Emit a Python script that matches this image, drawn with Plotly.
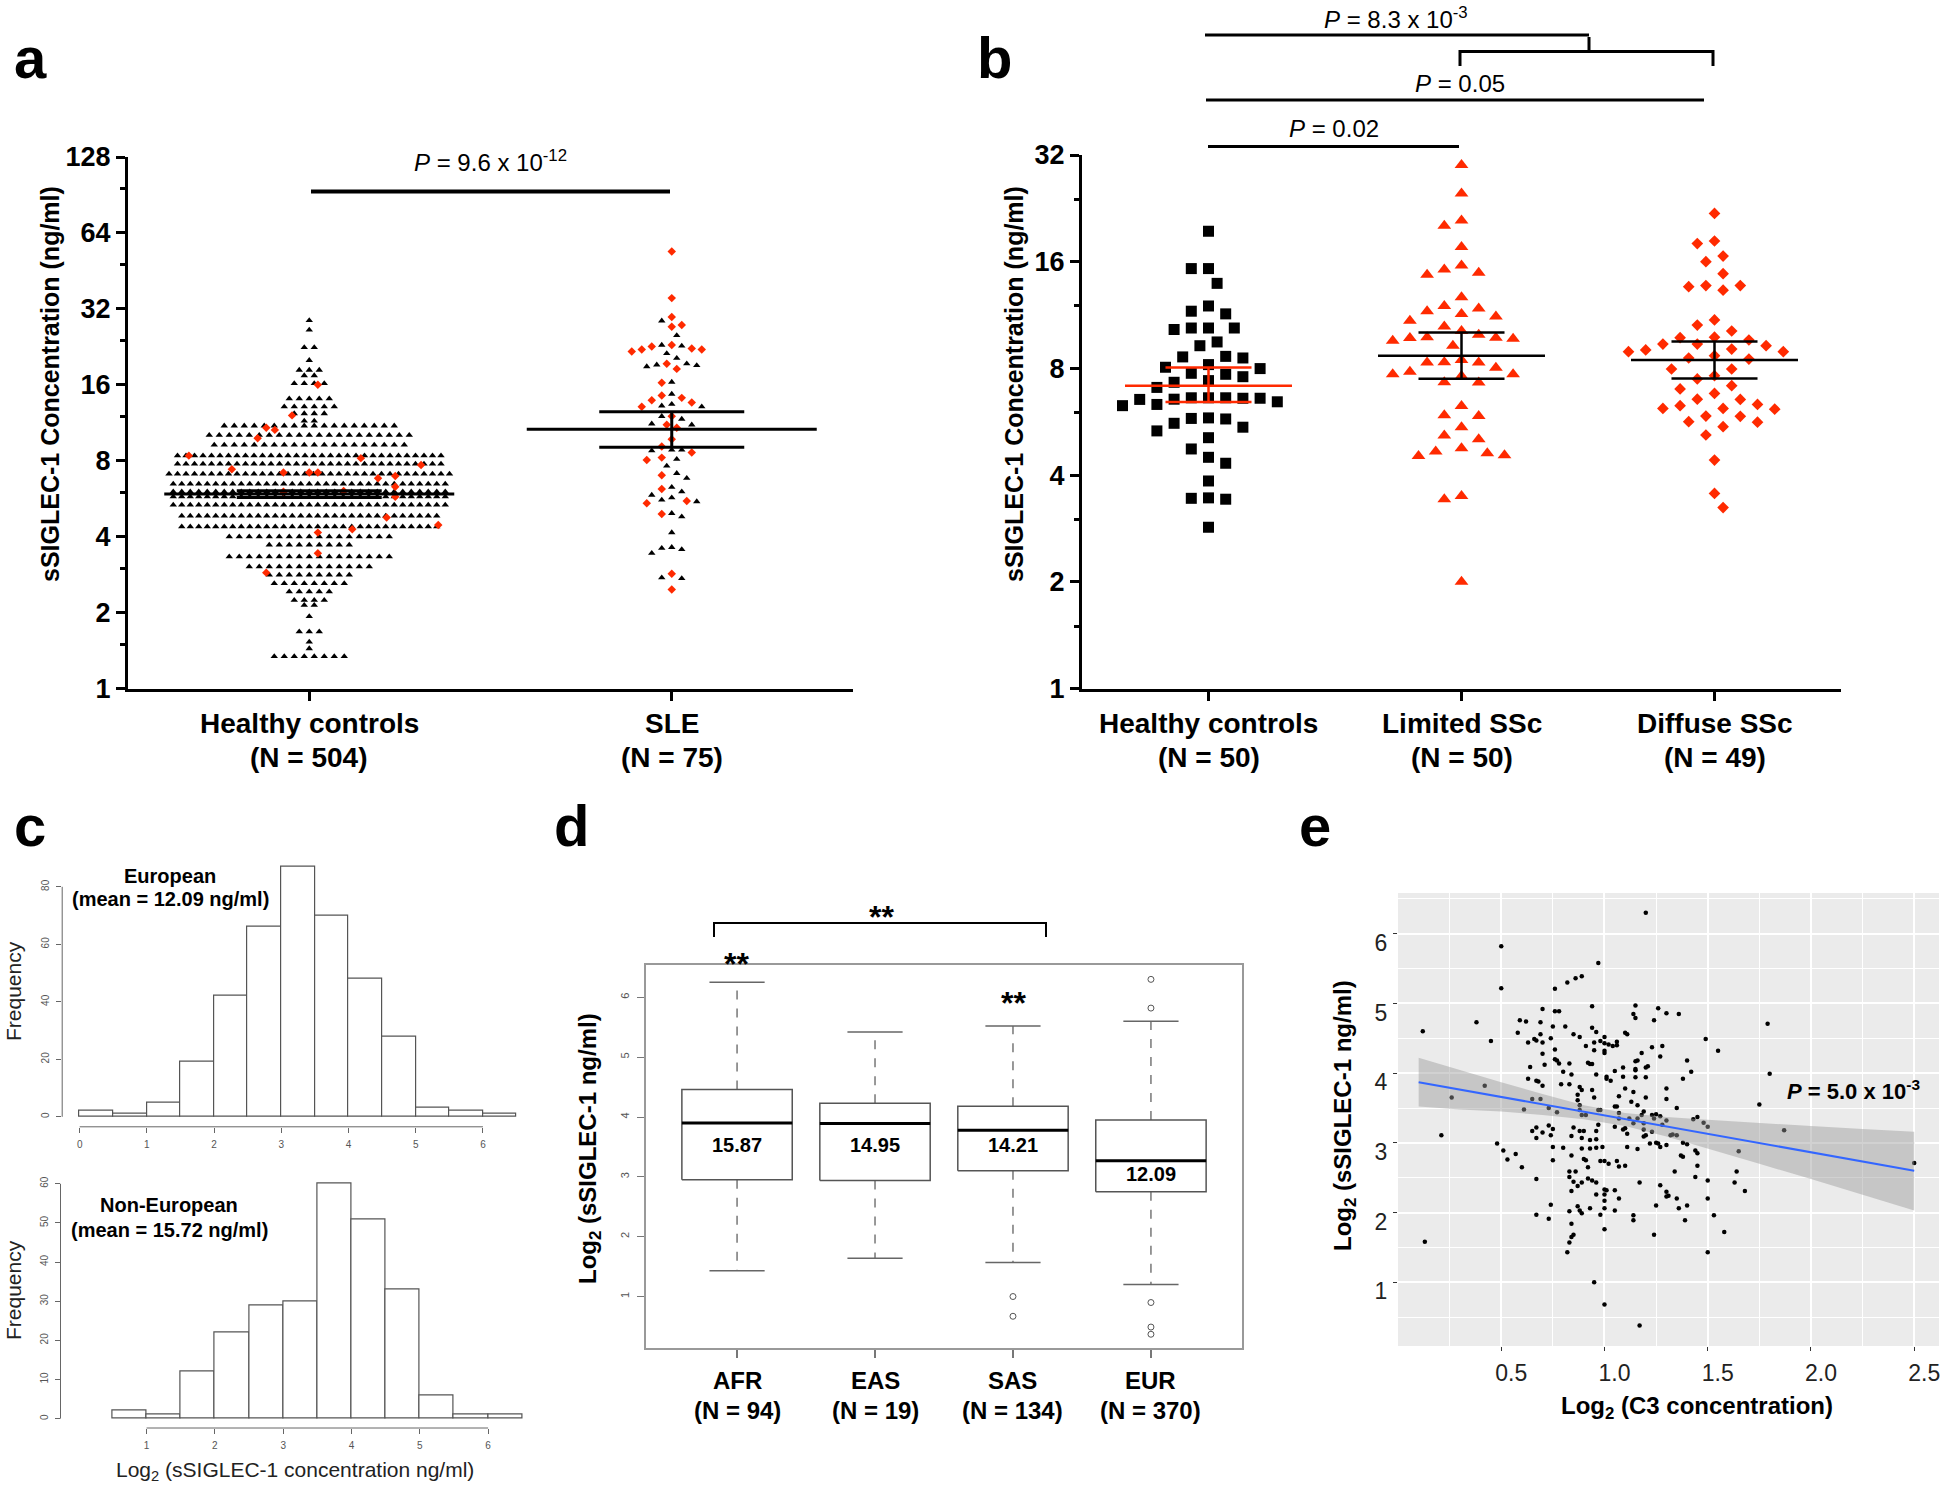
import math
import plotly.graph_objects as go

W, H = 1946, 1486
FONT = "Liberation Sans, Arial, Helvetica, sans-serif"
RED = "#ff2a00"

# ======================= DATA =======================
# ---- panel a : sSIGLEC-1 (ng/ml), healthy controls vs SLE ----
a_groups = ["Healthy controls", "SLE"]
a_n = [504, 75]
# healthy-control swarm rows (value, number of black triangles in the row)
hc_row_values = [28.8, 26.4, 22.5, 20.0, 18.3, 17.4, 16.2, 14.1, 13.1, 12.3,
                 11.5, 11.0, 10.1, 9.24, 8.38, 7.77, 7.09, 6.47, 6.03, 5.76,
                 5.34, 4.83, 4.38, 4.0, 3.71, 3.33, 3.04, 2.82, 2.61, 2.42,
                 2.24, 2.14, 1.93, 1.68, 1.53, 1.44, 1.34]
hc_row_counts = [1, 1, 2, 1, 3, 2, 4, 5, 6, 4,
                 2, 18, 21, 20, 32, 32, 34, 33, 33, 33,
                 33, 31, 31, 17, 9, 17, 13, 9, 8, 5,
                 4, 2, 1, 3, 1, 1, 8]
hc_red_values = [16.0, 12.1, 10.8, 10.6, 9.83, 8.38, 8.19, 7.40, 7.70, 7.18, 7.18, 7.18,
                 6.82, 6.96, 6.31, 6.03, 6.07, 5.76, 4.76, 4.45, 4.28, 4.15, 3.44, 2.88]
sle_red_values = [54.0, 35.3, 29.7, 27.2, 27.6, 22.3, 23.0, 22.1, 22.7, 21.7,
                  22.1, 19.4, 18.5, 16.3, 14.5, 13.9, 13.1, 13.6, 14.2, 12.0,
                  11.1, 10.8, 9.73, 9.10, 8.62, 8.06, 8.23, 7.01, 6.18, 5.43,
                  5.54, 4.92, 2.85, 2.47]
sle_black_values = [28.7, 25.1, 22.8, 23.0, 21.3, 20.4, 19.1, 18.9, 19.2, 19.4,
                    16.4, 14.7, 13.4, 13.2, 13.1, 12.0, 11.7, 11.2, 11.1, 8.83,
                    8.77, 8.83, 8.11, 7.63, 6.82, 7.13, 6.28, 6.03, 5.85, 5.59,
                    5.51, 5.71, 4.95, 4.80, 4.15, 3.60, 3.44, 3.56, 3.63, 2.75, 2.73]
a_mean = [5.9, 10.67]
a_sem_lo = [5.72, 9.05]
a_sem_hi = [6.08, 12.5]
a_ticks = [1, 2, 4, 8, 16, 32, 64, 128]
a_minor = [1.5, 3, 6, 12, 24, 48, 96]

# ---- panel b : healthy controls vs limited / diffuse SSc ----
b_groups = ["Healthy controls", "Limited SSc", "Diffuse SSc"]
b_n = [50, 50, 49]
b_hc = [19.5, 15.3, 15.3, 13.9, 12.0, 11.6, 11.4, 10.4, 10.3, 10.4,
        10.4, 9.50, 9.27, 8.62, 8.56, 8.65, 7.99, 8.20, 8.06, 7.70,
        7.58, 7.75, 7.39, 7.31, 7.07, 6.61, 6.59, 6.59, 6.44, 6.54,
        6.55, 6.61, 6.61, 6.28, 6.33, 5.78, 5.76, 5.80, 5.46, 5.60,
        5.33, 5.10, 4.74, 4.49, 4.32, 3.85, 3.44, 3.42, 3.45, 2.85]
b_lim = [30.0, 24.9, 20.2, 20.9, 17.6, 15.2, 14.7, 14.9, 15.6, 12.7,
         12.0, 11.6, 11.2, 11.8, 11.4, 10.9, 10.5, 10.2, 9.77, 9.74,
         9.58, 9.27, 9.70, 9.79, 9.96, 8.32, 8.31, 8.31, 8.45, 7.83,
         7.70, 7.61, 7.70, 8.04, 7.31, 7.30, 6.27, 5.87, 5.90, 5.46,
         5.17, 5.05, 4.76, 4.61, 4.53, 4.55, 4.66, 3.49, 3.42, 2.0]
b_dif = [21.9, 18.3, 18.0, 16.6, 16.0, 14.8, 13.7, 13.6, 13.3, 13.7,
         10.96, 10.6, 10.2, 9.77, 9.80, 9.62, 9.37, 9.07, 8.92, 8.69,
         8.50, 8.56, 8.92, 9.02, 9.27, 9.37, 7.97, 7.97, 7.63, 7.47,
         7.15, 6.80, 7.0, 6.54, 6.55, 6.28, 6.17, 6.14, 6.17, 6.33,
         5.87, 5.86, 5.64, 5.66, 5.48, 5.19, 4.41, 3.55, 3.24]
b_mean = [7.15, 8.69, 8.45]
b_sem_lo = [6.43, 7.48, 7.49]
b_sem_hi = [8.05, 10.1, 9.52]
b_ticks = [1, 2, 4, 8, 16, 32]
b_minor = [1.5, 3, 6, 12, 24]

# ---- panel c : histograms of log2 sSIGLEC-1 ----
eur_edges = [0.0, 0.5, 1.0, 1.5, 2.0, 2.5, 3.0, 3.5, 4.0, 4.5, 5.0, 5.5, 6.0, 6.5]
eur_counts = [2, 1, 5, 19, 42, 66, 87, 70, 48, 28, 3, 2, 1]
noneur_edges = [0.5, 1.0, 1.5, 2.0, 2.5, 3.0, 3.5, 4.0, 4.5, 5.0, 5.5, 6.0, 6.5]
noneur_counts = [2, 1, 12, 22, 29, 30, 60, 51, 33, 6, 1, 1]

# ---- panel d : boxplots by population ----
d_groups = ["AFR", "EAS", "SAS", "EUR"]
d_n = [94, 19, 134, 370]
d_upper = [6.25, 5.42, 5.52, 5.60]
d_q3 = [4.46, 4.23, 4.18, 3.95]
d_median = [3.90, 3.89, 3.78, 3.27]
d_q1 = [2.95, 2.94, 3.10, 2.75]
d_lower = [1.43, 1.64, 1.57, 1.20]
d_outliers = [[], [], [1.0, 0.67], [6.30, 5.82, 0.90, 0.49, 0.37]]
d_labels = ["15.87", "14.95", "14.21", "12.09"]

# ---- panel e : log2 sSIGLEC-1 vs log2 C3 ----
e_x = [1.20, 0.50, 0.97, 0.50, 0.76, 0.82, 0.86, 0.89, 0.12, 0.38, 0.45, 0.13, 0.21, 0.26, 0.42,
       0.70, 0.76, 0.78, 0.94, 1.15, 1.14, 1.15,
       0.59, 0.62, 0.69, 0.75, 0.81, 0.94,
       0.58, 0.66, 0.67, 0.69, 0.74, 0.85, 0.88, 0.96, 1.00, 1.10, 1.11,
       0.63, 0.70, 0.91, 0.95, 0.98, 1.00, 1.02, 1.06, 1.06, 1.04,
       0.70, 0.76, 0.95, 1.00, 1.00, 1.18,
       0.76, 0.77, 0.71, 0.64, 0.78, 0.83, 0.92, 0.93, 0.94, 1.05, 1.15, 1.16, 1.15, 1.15, 1.09,
       0.80, 0.84, 0.96, 1.01, 1.01, 1.03, 1.09, 1.15, 1.20, 0.63,
       0.67, 0.68, 0.70, 0.79, 0.83, 0.88, 0.89, 0.94, 1.10, 1.14, 1.07,
       0.65, 0.69, 0.87, 0.87, 0.95, 1.05, 1.06, 1.16, 1.13, 1.20,
       0.61, 0.73, 0.77, 0.88, 0.88, 0.89, 0.91, 0.97, 0.98, 1.07, 1.07, 1.12, 1.14, 1.16, 1.18, 1.19,
       0.65, 0.67, 0.67, 0.70, 0.73, 0.74, 0.75, 0.85, 0.88, 0.90, 0.96, 0.97, 1.05, 1.09, 1.10, 1.11, 1.19, 1.20,
       0.84, 0.89, 0.93, 0.96, 0.99, 0.96, 0.93, 0.89, 0.80, 0.75, 0.48, 0.51, 0.57, 0.53, 0.60, 0.67, 0.75, 0.84,
       0.90, 0.91, 0.98, 1.00, 1.02, 1.06, 1.07, 1.10, 1.11, 1.16,
       0.92, 0.83, 0.83, 0.86, 0.84, 0.85, 0.87, 0.89, 0.92, 0.94, 0.96, 0.96, 1.00, 1.01, 1.05, 1.07, 1.00, 1.00,
       1.17, 0.74, 0.87, 0.88, 0.89, 0.93, 0.98, 1.00, 1.05, 0.67, 0.73, 0.83, 1.14, 1.14,
       0.84, 0.85, 0.84, 0.83, 0.82, 1.00, 0.95, 1.00, 1.17,
       1.26, 1.30, 1.36, 1.24, 1.79, 1.49, 1.55, 1.23, 1.28, 1.27, 1.40, 1.20, 1.21, 1.42, 1.80, 1.38, 1.30, 1.30, 1.75, 1.35,
       1.23, 1.25, 1.27, 1.24, 1.30, 1.28, 1.19, 1.43, 1.45, 1.48, 1.50, 1.87, 1.19, 1.23, 1.32, 1.33, 1.35, 1.22, 1.25, 1.26,
       1.27, 1.30, 1.38, 1.40, 1.65, 1.44, 1.45, 1.37, 1.38, 1.45, 1.34, 1.44, 1.50, 1.63, 1.64, 1.68, 1.27, 1.30, 1.30, 1.31,
       1.35, 1.50, 1.25, 1.40, 1.36, 1.53, 1.39, 1.58, 1.24, 1.50, 2.50]
e_y = [6.30, 5.82, 5.58, 5.22, 5.21, 5.30, 5.36, 5.39, 4.60, 4.73, 4.46, 1.58, 3.11, 3.65, 3.82,
       4.92, 4.89, 4.89, 4.96, 4.97, 4.85, 4.79,
       4.76, 4.74, 4.73, 4.67, 4.67, 4.65,
       4.58, 4.49, 4.47, 4.56, 4.50, 4.56, 4.52, 4.59, 4.52, 4.58, 4.56,
       4.44, 4.44, 4.39, 4.44, 4.46, 4.43, 4.41, 4.45, 4.40, 4.39,
       4.28, 4.34, 4.33, 4.32, 4.29, 4.29,
       4.20, 4.18, 4.12, 4.09, 4.14, 4.14, 4.15, 4.13, 4.13, 4.03, 4.17, 4.18, 4.06, 4.04, 4.08,
       4.02, 3.98, 3.98, 3.95, 3.92, 3.89, 3.95, 3.94, 3.94, 3.92,
       3.89, 3.88, 3.82, 3.84, 3.84, 3.80, 3.76, 3.76, 3.78, 3.73, 3.67,
       3.63, 3.63, 3.69, 3.61, 3.65, 3.52, 3.52, 3.54, 3.59, 3.65,
       3.48, 3.50, 3.44, 3.54, 3.47, 3.40, 3.40, 3.47, 3.47, 3.43, 3.35, 3.35, 3.28, 3.35, 3.40, 3.45,
       3.17, 3.22, 3.07, 3.15, 3.25, 3.11, 3.20, 3.22, 3.17, 3.17, 3.17, 3.26, 3.23, 3.19, 3.21, 3.13, 3.09, 3.11,
       3.10, 3.07, 3.04, 3.05, 2.94, 2.93, 2.92, 2.92, 2.93, 2.94, 2.99, 2.89, 2.84, 2.76, 2.65, 2.48, 2.75, 2.82,
       2.77, 2.75, 2.74, 2.74, 2.70, 2.74, 2.66, 2.67, 2.94, 2.91,
       2.65, 2.59, 2.51, 2.59, 2.31, 2.44, 2.38, 2.43, 2.49, 2.46, 2.43, 2.26, 2.33, 2.32, 2.32, 2.20, 2.26, 2.17,
       2.43, 2.11, 2.09, 2.03, 1.99, 2.06, 1.97, 2.06, 2.03, 1.97, 1.91, 2.02, 1.96, 1.89,
       1.84, 1.68, 1.65, 1.57, 1.43, 1.76, 1.00, 0.68, 0.38,
       4.93, 4.86, 4.85, 4.76, 4.71, 4.49, 4.32, 4.37, 4.39, 4.24, 4.18, 4.08, 4.10, 4.02, 3.99, 3.92, 3.78, 3.63, 3.55, 3.50,
       3.40, 3.41, 3.38, 3.35, 3.32, 3.26, 3.28, 3.34, 3.37, 3.29, 3.23, 3.18, 3.19, 3.16, 3.11, 3.12, 3.11, 2.99, 3.00, 2.99,
       2.94, 2.97, 3.00, 2.98, 2.88, 2.89, 2.85, 2.82, 2.80, 2.67, 2.59, 2.51, 2.46, 2.43, 2.59, 2.31, 2.39, 2.30, 2.23, 2.24,
       2.20, 2.20, 2.10, 2.10, 2.06, 1.96, 1.89, 1.72, 1.68, 1.43, 2.71]
e_fit_x = [0.1, 2.5]
e_fit_y = [3.87, 2.60]
e_band_x = [0.1, 0.3, 0.5, 0.7, 0.9, 1.1, 1.3, 1.5, 1.75, 2.0, 2.25, 2.5]
e_band_lo = [3.52, 3.48, 3.45, 3.40, 3.34, 3.24, 3.09, 2.92, 2.70, 2.48, 2.26, 2.03]
e_band_hi = [4.22, 4.04, 3.87, 3.70, 3.54, 3.43, 3.37, 3.33, 3.28, 3.24, 3.20, 3.16]

# ======================= LAYOUT GEOMETRY (pixels) =======================
def PX(x):
    return x / W


def PY(y):
    return 1 - y / H


# plotting boxes: x0, x1, ytop, ybottom
A_BOX = (128, 853, 157, 688.5)
B_BOX = (1082, 1841, 155, 688.5)
C1_BOX = (62.2, 534, 856.7, 1126.8)
C2_BOX = (60.5, 540, 1174.4, 1428)
D_BOX = (646, 1242, 965, 1348)
E_BOX = (1398, 1939, 893, 1346)

A_XR = [0.5, 2.5]
B_XR = [0.5, 3.5]
C1_XR = [-0.26, 6.76]
C1_YR = [-3.48, 90.48]
C2_XR = [-0.26, 6.76]
C2_YR = [-2.4, 62.4]
D_XR = [0.34, 4.66]
D_YR = [0.14, 6.54]
E_XR = [0.0, 2.62]
E_YR = [0.085, 6.585]


def xdom(b):
    return [PX(b[0]), PX(b[1])]


def ydom(b):
    return [PY(b[3]), PY(b[2])]


def lin(v, r, p0, p1):
    return p0 + (v - r[0]) / (r[1] - r[0]) * (p1 - p0)


def swarm(vals, ppo, d, step):
    """simple beeswarm: x offsets in pixels for values on a log2 axis"""
    ys = [math.log2(v) * ppo for v in vals]
    order = sorted(range(len(vals)), key=lambda i: -vals[i])
    placed = []
    offs = [0.0] * len(vals)
    for i in order:
        k = 0
        chosen = None
        while chosen is None:
            if k == 0:
                cands = [0.0]
            elif k % 2:
                cands = [k * step, -k * step]
            else:
                cands = [-k * step, k * step]
            for c in cands:
                if all((c - px) ** 2 + (ys[i] - py) ** 2 >= d * d for px, py in placed):
                    chosen = c
                    break
            k += 1
        offs[i] = chosen
        placed.append((chosen, ys[i]))
    return offs


fig = go.Figure()

# ======================= PANEL a =======================
a_ppu = (A_BOX[1] - A_BOX[0]) / (A_XR[1] - A_XR[0])
a_ppo = (A_BOX[3] - A_BOX[2]) / math.log2(128)
hc_x, hc_y = [], []
for v, n in zip(hc_row_values, hc_row_counts):
    s = 10.0 if n <= 21 else 8.5
    for j in range(n):
        hc_x.append(1 + (j - (n - 1) / 2) * s / a_ppu)
        hc_y.append(v)
# swarm slot of each red diamond inside the control rows (layout only)
hc_red_slot = [1, -2, -5, -4, -6, -14, 6, -9, 13, -3, 0, 1, 8, 10, 10, -3, 4, 10, 9, 15, 5, 1, 1, -5]
hc_red_x = [1 + k * 8.6 / a_ppu for k in hc_red_slot]

sle_vals = sle_red_values + sle_black_values
sle_off = swarm(sle_vals, a_ppo, 9.5, 5.0)
nr = len(sle_red_values)
sle_rx = [2 + o / a_ppu for o in sle_off[:nr]]
sle_bx = [2 + o / a_ppu for o in sle_off[nr:]]

fig.add_trace(go.Scatter(x=hc_x, y=hc_y, mode="markers", xaxis="x", yaxis="y",
                         marker=dict(symbol="triangle-up", size=6.5, color="black", line=dict(width=0))))
fig.add_trace(go.Scatter(x=sle_bx, y=sle_black_values, mode="markers", xaxis="x", yaxis="y",
                         marker=dict(symbol="triangle-up", size=6.5, color="black", line=dict(width=0))))
fig.add_trace(go.Scatter(x=hc_red_x, y=hc_red_values, mode="markers", xaxis="x", yaxis="y",
                         marker=dict(symbol="diamond", size=6.5, color=RED, line=dict(width=0))))
fig.add_trace(go.Scatter(x=sle_rx, y=sle_red_values, mode="markers", xaxis="x", yaxis="y",
                         marker=dict(symbol="diamond", size=6.5, color=RED, line=dict(width=0))))


def mean_sem(centers, means, lo, hi, hm, hs):
    xs, ys = [], []
    for c, m, l, h in zip(centers, means, lo, hi):
        xs += [c - hm, c + hm, None, c - hs, c + hs, None, c - hs, c + hs, None, c, c, None]
        ys += [m, m, None, l, l, None, h, h, None, l, h, None]
    return xs, ys


mx, my = mean_sem([1, 2], a_mean, a_sem_lo, a_sem_hi, 0.4, 0.2)
fig.add_trace(go.Scatter(x=mx, y=my, mode="lines", xaxis="x", yaxis="y",
                         line=dict(color="black", width=3)))

# ======================= PANEL b =======================
b_ppu = (B_BOX[1] - B_BOX[0]) / (B_XR[1] - B_XR[0])
b_ppo = (B_BOX[3] - B_BOX[2]) / math.log2(32)
b_styles = [("square", 11, "black"), ("triangle-up", 12, RED), ("diamond", 9, RED)]
for i, vals in enumerate([b_hc, b_lim, b_dif]):
    offs = swarm(vals, b_ppo, 16.0, 8.6)
    sym, sz, col = b_styles[i]
    fig.add_trace(go.Scatter(x=[i + 1 + o / b_ppu for o in offs], y=vals, mode="markers",
                             xaxis="x2", yaxis="y2",
                             marker=dict(symbol=sym, size=sz, color=col, line=dict(width=0))))
mx, my = mean_sem([1], b_mean[:1], b_sem_lo[:1], b_sem_hi[:1], 0.33, 0.17)
fig.add_trace(go.Scatter(x=mx, y=my, mode="lines", xaxis="x2", yaxis="y2",
                         line=dict(color=RED, width=2.5)))
mx, my = mean_sem([2, 3], b_mean[1:], b_sem_lo[1:], b_sem_hi[1:], 0.33, 0.17)
fig.add_trace(go.Scatter(x=mx, y=my, mode="lines", xaxis="x2", yaxis="y2",
                         line=dict(color="black", width=2.5)))

# ======================= PANEL c =======================
for edges, counts, xa, ya in [(eur_edges, eur_counts, "x3", "y3"),
                              (noneur_edges, noneur_counts, "x4", "y4")]:
    centers = [(edges[k] + edges[k + 1]) / 2 for k in range(len(counts))]
    widths = [edges[k + 1] - edges[k] for k in range(len(counts))]
    fig.add_trace(go.Bar(x=centers, y=counts, width=widths, xaxis=xa, yaxis=ya,
                         marker=dict(color="white", line=dict(color="#555555", width=1.2))))

# ======================= PANEL d =======================
bx, by, medx, medy, wx, wy, cx, cy = [], [], [], [], [], [], [], []
ox, oy = [], []
for i in range(len(d_groups)):
    c = i + 1
    bx += [c - 0.4, c + 0.4, c + 0.4, c - 0.4, c - 0.4, None]
    by += [d_q1[i], d_q1[i], d_q3[i], d_q3[i], d_q1[i], None]
    medx += [c - 0.4, c + 0.4, None]
    medy += [d_median[i], d_median[i], None]
    wx += [c, c, None, c, c, None]
    wy += [d_q3[i], d_upper[i], None, d_q1[i], d_lower[i], None]
    cx += [c - 0.2, c + 0.2, None, c - 0.2, c + 0.2, None]
    cy += [d_upper[i], d_upper[i], None, d_lower[i], d_lower[i], None]
    for o in d_outliers[i]:
        ox.append(c)
        oy.append(o)
fig.add_trace(go.Scatter(x=wx, y=wy, mode="lines", xaxis="x5", yaxis="y5",
                         line=dict(color="#777777", width=1.5, dash="dash")))
fig.add_trace(go.Scatter(x=cx, y=cy, mode="lines", xaxis="x5", yaxis="y5",
                         line=dict(color="#666666", width=1.5)))
fig.add_trace(go.Scatter(x=bx, y=by, mode="lines", xaxis="x5", yaxis="y5",
                         line=dict(color="#555555", width=1.5)))
fig.add_trace(go.Scatter(x=medx, y=medy, mode="lines", xaxis="x5", yaxis="y5",
                         line=dict(color="black", width=3)))
fig.add_trace(go.Scatter(x=ox, y=oy, mode="markers", xaxis="x5", yaxis="y5",
                         marker=dict(symbol="circle-open", size=6, color="#555555", line=dict(width=1))))

# ======================= PANEL e =======================
fig.add_trace(go.Scatter(x=e_x, y=e_y, mode="markers", xaxis="x6", yaxis="y6",
                         marker=dict(size=4.5, color="black", line=dict(width=0))))
fig.add_trace(go.Scatter(x=e_band_x + e_band_x[::-1], y=e_band_hi + e_band_lo[::-1],
                         mode="lines", fill="toself", fillcolor="rgba(153,153,153,0.45)",
                         line=dict(width=0), xaxis="x6", yaxis="y6"))
fig.add_trace(go.Scatter(x=e_fit_x, y=e_fit_y, mode="lines", xaxis="x6", yaxis="y6",
                         line=dict(color="#3366ff", width=2)))

# ======================= AXES =======================
def tf(size, bold=False, color="black"):
    return dict(family=FONT, size=size, color=color, weight="bold" if bold else "normal")


noax = dict(showgrid=False, zeroline=False, automargin=False)

layout = dict(
    width=W, height=H, margin=dict(l=0, r=0, t=0, b=0, pad=0, autoexpand=False),
    paper_bgcolor="white", plot_bgcolor="white", showlegend=False,
    hovermode=False, font=dict(family=FONT), bargap=0,
)

# panel a
layout["xaxis"] = dict(domain=xdom(A_BOX), range=A_XR, anchor="y",
                       tickvals=[1, 2], showticklabels=False,
                       ticks="outside", ticklen=9, tickwidth=3, tickcolor="black",
                       showline=True, linewidth=3, linecolor="black", **noax)
layout["yaxis"] = dict(domain=ydom(A_BOX), type="log", range=[0, math.log10(128)], anchor="x",
                       tickvals=a_ticks, ticktext=[str(t) for t in a_ticks],
                       ticks="outside", ticklen=9, tickwidth=3, tickcolor="black",
                       minor=dict(tickvals=a_minor, ticks="outside", ticklen=5, tickwidth=3, tickcolor="black"),
                       showline=True, linewidth=3, linecolor="black",
                       tickfont=tf(27, True), **noax)
# panel b
layout["xaxis2"] = dict(domain=xdom(B_BOX), range=B_XR, anchor="y2",
                        tickvals=[1, 2, 3], showticklabels=False,
                        ticks="outside", ticklen=9, tickwidth=3, tickcolor="black",
                        showline=True, linewidth=3, linecolor="black", **noax)
layout["yaxis2"] = dict(domain=ydom(B_BOX), type="log", range=[0, math.log10(32)], anchor="x2",
                        tickvals=b_ticks, ticktext=[str(t) for t in b_ticks],
                        ticks="outside", ticklen=9, tickwidth=3, tickcolor="black",
                        minor=dict(tickvals=b_minor, ticks="outside", ticklen=5, tickwidth=3, tickcolor="black"),
                        showline=True, linewidth=3, linecolor="black",
                        tickfont=tf(27, True), **noax)
# panel c
for xa, ya, box, xr, yr, xt, yt in [("xaxis3", "yaxis3", C1_BOX, C1_XR, C1_YR, list(range(0, 7)), [0, 20, 40, 60, 80]),
                                     ("xaxis4", "yaxis4", C2_BOX, C2_XR, C2_YR, list(range(1, 7)), [0, 10, 20, 30, 40, 50, 60])]:
    layout[xa] = dict(domain=xdom(box), range=xr, anchor=ya.replace("axis", ""),
                      tickvals=xt, ticks="outside", ticklen=5, tickwidth=1, tickcolor="#666666",
                      tickfont=tf(10, False, "#555555"), ticklabelstandoff=3, showline=False, **noax)
    layout[ya] = dict(domain=ydom(box), range=yr, anchor=xa.replace("axis", ""),
                      tickvals=yt, ticks="outside", ticklen=5, tickwidth=1, tickcolor="#666666",
                      tickangle=-90, tickfont=tf(10, False, "#555555"), ticklabelstandoff=3,
                      showline=False, **noax)
# panel d
layout["xaxis5"] = dict(domain=xdom(D_BOX), range=D_XR, anchor="y5",
                        tickvals=[1, 2, 3, 4], showticklabels=False,
                        ticks="outside", ticklen=8, tickwidth=1.5, tickcolor="#777777",
                        showline=True, mirror=True, linewidth=1.5, linecolor="#999999", **noax)
layout["yaxis5"] = dict(domain=ydom(D_BOX), range=D_YR, anchor="x5",
                        tickvals=[1, 2, 3, 4, 5, 6], ticks="outside", ticklen=7, tickwidth=1,
                        tickcolor="#777777", tickangle=-90, tickfont=tf(11, False, "#555555"),
                        ticklabelstandoff=4,
                        showline=True, mirror=True, linewidth=1.5, linecolor="#999999", **noax)
# panel e
layout["xaxis6"] = dict(domain=xdom(E_BOX), range=E_XR, anchor="y6",
                        tickvals=[0.5, 1.0, 1.5, 2.0, 2.5], ticktext=["0.5", "1.0", "1.5", "2.0", "2.5"],
                        ticks="outside", ticklen=4, tickwidth=1, tickcolor="#333333",
                        tickfont=tf(23, False, "#222222"), ticklabelstandoff=2, ticklabelshift=10,
                        showgrid=True, gridcolor="white", gridwidth=2, zeroline=False, showline=False,
                        automargin=False,
                        minor=dict(tickvals=[0.25, 0.75, 1.25, 1.75, 2.25], showgrid=True,
                                   gridcolor="white", gridwidth=1))
layout["yaxis6"] = dict(domain=ydom(E_BOX), range=E_YR, anchor="x6",
                        tickvals=[1, 2, 3, 4, 5, 6], ticks="outside", ticklen=4, tickwidth=1,
                        tickcolor="#333333", tickfont=tf(23, False, "#222222"),
                        ticklabelstandoff=1, ticklabelshift=9,
                        showgrid=True, gridcolor="white", gridwidth=2, zeroline=False, showline=False,
                        automargin=False,
                        minor=dict(tickvals=[0.5, 1.5, 2.5, 3.5, 4.5, 5.5, 6.5], showgrid=True,
                                   gridcolor="white", gridwidth=1))

# ======================= ANNOTATIONS & SHAPES =======================
ann = []


def A(text, x, y, size, bold=False, angle=0, color="black", xanchor="center"):
    ann.append(dict(text=text, x=PX(x), y=PY(y), xref="paper", yref="paper", showarrow=False,
                    font=tf(size, bold, color), textangle=angle, xanchor=xanchor, yanchor="middle"))


shapes = []


def L(x0, y0, x1, y1, w=3, color="black"):
    shapes.append(dict(type="line", xref="paper", yref="paper", x0=PX(x0), y0=PY(y0),
                       x1=PX(x1), y1=PY(y1), line=dict(color=color, width=w)))


# panel letters
for t, x, y in [("a", 30, 57), ("b", 994, 57), ("c", 30, 825), ("d", 571, 825), ("e", 1315, 825)]:
    A(t, x, y, 58, True)

# category labels (two lines under each category tick)
for groups, ns, box, xr, y1, y2, size in [(a_groups, a_n, A_BOX, A_XR, 723, 757.5, 28),
                                          (b_groups, b_n, B_BOX, B_XR, 723, 757.5, 28),
                                          (d_groups, d_n, D_BOX, D_XR, 1380, 1410.5, 24)]:
    for k, (g, n) in enumerate(zip(groups, ns)):
        xc = lin(k + 1, xr, box[0], box[1])
        A(g, xc, y1, size, True)
        A(f"(N = {n})", xc, y2, size, True)

# axis titles
A("sSIGLEC-1 Concentration (ng/ml)", 50, 384, 25, True, -90)
A("sSIGLEC-1 Concentration (ng/ml)", 1014, 384, 25, True, -90)
A("Frequency", 13, 991, 21, False, -90, "#222222")
A("Frequency", 13, 1290, 21, False, -90, "#222222")
A("Log<sub>2</sub> (sSIGLEC-1 concentration ng/ml)", 295, 1471, 21, False, 0, "#222222")
A("Log<sub>2</sub> (sSIGLEC-1 ng/ml)", 589, 1149, 24, True, -90)
A("Log<sub>2</sub> (sSIGLEC-1 ng/ml)", 1344, 1116, 24, True, -90)
A("Log<sub>2</sub> (C3 concentration)", 1697, 1407, 24, True)

# p-values panel a / b
A("<i>P</i> = 9.6 x 10<sup>-12</sup>", 490, 161, 24)
L(311, 191.5, 670, 191.5, 4)
A("<i>P</i> = 0.02", 1334, 129, 24)
L(1208, 146.5, 1459, 146.5, 3)
A("<i>P</i> = 0.05", 1460, 84, 24)
L(1206, 100, 1704, 100, 3)
A("<i>P</i> = 8.3 x 10<sup>-3</sup>", 1396, 18, 24)
L(1205, 35, 1589, 35, 3)
L(1460, 51.5, 1713, 51.5, 3)
L(1460, 50, 1460, 66, 3)
L(1713, 50, 1713, 66, 3)
L(1589, 37, 1589, 53, 3)

# panel c labels
A("European", 170, 876, 20, True)
A("(mean = 12.09 ng/ml)", 170, 899, 20, True)
A("Non-European", 169, 1205, 20, True)
A("(mean = 15.72 ng/ml)", 169, 1230, 20, True)
# R-style axis lines for the histograms
for box, xr, yr, xa0, xa1, ya1 in [(C1_BOX, C1_XR, C1_YR, 0, 6, 80), (C2_BOX, C2_XR, C2_YR, 1, 6, 60)]:
    L(lin(xa0, xr, box[0], box[1]), box[3], lin(xa1, xr, box[0], box[1]), box[3], 1, "#666666")
    L(box[0], lin(0, yr, box[3], box[2]), box[0], lin(ya1, yr, box[3], box[2]), 1, "#666666")

# panel d: median labels, significance marks
d_label_y = [3.54, 3.54, 3.54, 3.04]
for i, t in enumerate(d_labels):
    ann.append(dict(text=t, x=i + 1, y=d_label_y[i], xref="x5", yref="y5", showarrow=False,
                    font=tf(20, True), xanchor="center", yanchor="middle"))
A("**", 736, 964, 32, True)
A("**", 1013, 1003, 32, True)
A("**", 881, 917, 32, True)
L(714, 923, 1046, 923, 2)
L(714, 922, 714, 937, 2)
L(1046, 922, 1046, 937, 2)

# panel e
A("<i>P</i> = 5.0 x 10<sup>-3</sup>", 1853, 1090, 22, True)
shapes.append(dict(type="rect", xref="paper", yref="paper", x0=PX(E_BOX[0]), x1=PX(E_BOX[1]),
                   y0=PY(E_BOX[3]), y1=PY(E_BOX[2]), fillcolor="#EBEBEB", line=dict(width=0),
                   layer="below"))

layout["annotations"] = ann
layout["shapes"] = shapes
fig.update_layout(**layout)

fig.write_html("out.html", config={"displayModeBar": False},
               post_script="document.body.style.margin='0';document.body.style.overflow='hidden';")
